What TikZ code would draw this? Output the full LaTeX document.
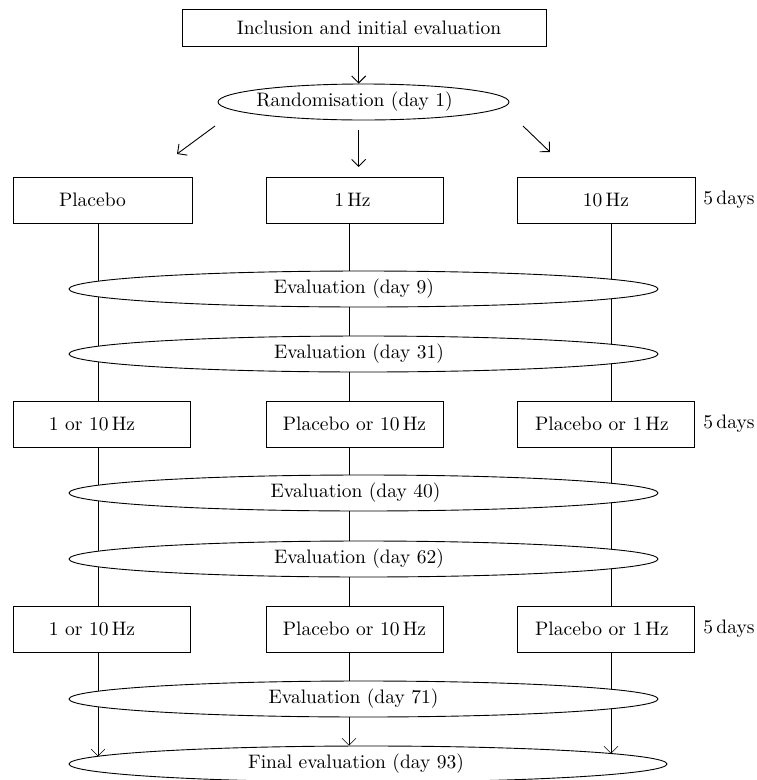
\documentclass[tikz,border=0pt]{standalone}
\usepackage{fontspec}
\setmainfont{lmroman10-regular}[Extension=.otf]
\usetikzlibrary{shapes.geometric,arrows.meta,backgrounds,intersections,calc}
\begin{document}
\begin{tikzpicture}[x=1pt,y=-1pt,line width=0.9pt,
  font=\fontsize{19.5}{23}\selectfont,
  box/.style={draw,rectangle,minimum height=46pt,inner sep=1pt},
  oval/.style={draw,ellipse,fill=white,minimum height=36pt,inner sep=1pt},
  wide/.style={oval,minimum width=589pt},
  lbl/.style={anchor=west,inner sep=0pt},
  tsh/.style={execute at begin node={\hspace*{#1}}},
  arr/.style={-{Straight Barb[length=7pt,width=14pt]}}]
\useasboundingbox (0,0) rectangle (756,780);

% column coordinates
\coordinate (colL) at (98,0);
\coordinate (colM) at (349,0);
\coordinate (colR) at (611,0);
\coordinate (colT) at (358.7,0);

% top
\node[box,minimum width=364pt,minimum height=37pt,tsh=10pt] (incl) at (364,27.5) {Inclusion and initial evaluation};
\node[oval,minimum width=291pt,tsh=-18pt] (rand) at (363.5,102) {Randomisation (day 1)};

% row 1
\node[box,minimum width=179pt,tsh=-20pt] (plc1) at (102.5,200) {Placebo};
\node[box,minimum width=177pt,tsh=-4pt] (hz1) at (354.5,200) {1\,Hz};
\node[box,minimum width=178pt] (hz10) at (606,200) {10\,Hz};
\node[lbl] (d1) at (703,200) {5\,days};

\node[wide,tsh=-19pt] (ev9) at (363.5,289) {Evaluation (day 9)};
\node[wide,tsh=-9pt] (ev31) at (363.5,354) {Evaluation (day 31)};

% row 2
\node[box,minimum width=177pt,tsh=-20pt] (a2) at (102,424) {1 or 10\,Hz};
\node[box,minimum width=177pt] (b2) at (354.5,424) {Placebo or 10\,Hz};
\node[box,minimum width=177pt,tsh=-7pt] (c2) at (605.5,424) {Placebo or 1\,Hz};
\node[lbl] (d2) at (703,424) {5\,days};

\node[wide,tsh=-16pt] (ev40) at (363.5,493) {Evaluation (day 40)};
\node[wide,tsh=-9pt] (ev62) at (363.5,559) {Evaluation (day 62)};

% row 3
\node[box,minimum width=177pt,tsh=-20pt] (a3) at (102,629) {1 or 10\,Hz};
\node[box,minimum width=177pt] (b3) at (354.5,629) {Placebo or 10\,Hz};
\node[box,minimum width=177pt,tsh=-7pt] (c3) at (605.5,629) {Placebo or 1\,Hz};
\node[lbl] (d3) at (703,629) {5\,days};

\node[wide,tsh=-20pt] (ev71) at (363.5,699) {Evaluation (day 71)};
\node[oval,minimum width=598pt,tsh=-24pt] (final) at (368,764) {Final evaluation (day 93)};

% arrows at top
\draw[arr] (incl.south -| colT) -- (rand.north -| colT);
\coordinate (dl1) at (215,126); \coordinate (dl2) at (177,154);
\coordinate (dm1) at (358.7,130); \coordinate (dm2) at (358.7,167);
\coordinate (dr1) at (523,126); \coordinate (dr2) at (550,152);
\draw[arr] (dl1) -- (dl2);
\draw[arr] (dm1) -- (dm2);
\draw[arr] (dr1) -- (dr2);

% intersections with the final ellipse rim
\path[name path=rim] (final.center) ellipse [x radius=299pt, y radius=18pt];
\path[name path=lv] (a3.south -| colL) -- (final.center -| colL);
\path[name path=rv] (c3.south -| colR) -- (final.center -| colR);
\path[name intersections={of=rim and lv, by={lhit}}];
\path[name intersections={of=rim and rv, by={rhit}}];

\begin{pgfonlayer}{background}
\draw (plc1.south -| colL) -- (a2.north -| colL);
\draw (a2.south -| colL) -- (a3.north -| colL);
\draw[arr] (a3.south -| colL) -- (colL |- lhit);
\draw (hz1.south -| colM) -- (b2.north -| colM);
\draw (b2.south -| colM) -- (b3.north -| colM);
\draw[arr] (b3.south -| colM) -- (final.north -| colM);
\draw (hz10.south -| colR) -- (c2.north -| colR);
\draw (c2.south -| colR) -- (c3.north -| colR);
\draw[arr] (c3.south -| colR) -- (colR |- rhit);
\end{pgfonlayer}
\end{tikzpicture}
\end{document}
